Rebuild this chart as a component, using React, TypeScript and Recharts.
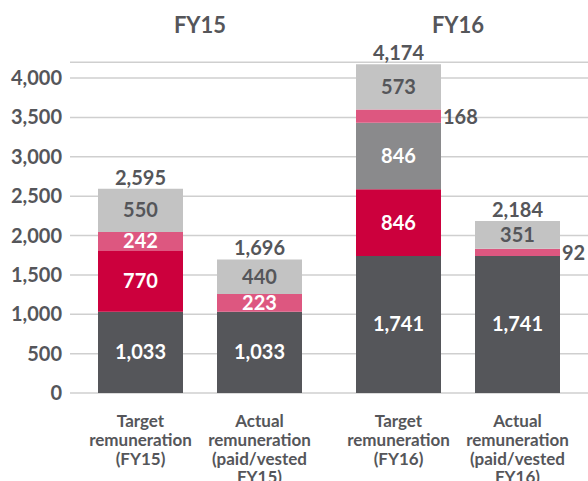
import { BarChart, Bar, XAxis, YAxis, CartesianGrid, LabelList } from 'recharts';

const categories = [
  'Target remuneration (FY15)',
  'Actual remuneration (paid/vested FY15)',
  'Target remuneration (FY16)',
  'Actual remuneration (paid/vested FY16)',
];
const tickLines: Record<string, string[]> = {
  'Target remuneration (FY15)': ['Target', 'remuneration', '(FY15)'],
  'Actual remuneration (paid/vested FY15)': ['Actual', 'remuneration', '(paid/vested', 'FY15)'],
  'Target remuneration (FY16)': ['Target', 'remuneration', '(FY16)'],
  'Actual remuneration (paid/vested FY16)': ['Actual', 'remuneration', '(paid/vested', 'FY16)'],
};
const fixedPay = [1033, 1033, 1741, 1741];
const shortTerm = [770, 0, 846, 0];
const longTerm = [0, 0, 846, 0];
const pinkPart = [242, 223, 168, 92];
const otherPart = [550, 440, 573, 351];
const totals = [2595, 1696, 4174, 2184];
const yTicks = [0, 500, 1000, 1500, 2000, 2500, 3000, 3500, 4000];

const rows = categories.map((name, i) => ({
  name,
  fixed: fixedPay[i],
  sti: shortTerm[i],
  lti: longTerm[i],
  pink: pinkPart[i],
  other: otherPart[i],
  total: totals[i],
}));

const FONT = 'Lato, "Open Sans", sans-serif';
const DARK = '#55565a';
const fmt = (v: number) => v.toLocaleString('en-US');

// 0 sits at y=393 and 4,000 at y=78; a little headroom above 4,000 for the FY16 bar
const Y_MAX = 4200;
const TOP = 393 - (Y_MAX * 315) / 4000;

const inside = (color: string) => (props: any) => {
  const { x, y, width, height, value } = props;
  if (!value) return null;
  return (
    <text x={x + width / 2} y={y + height / 2} dy={7} textAnchor="middle"
      fill={color} fontSize={20} fontWeight={700} fontFamily={FONT}>
      {fmt(value)}
    </text>
  );
};

const pinkLabel = (props: any) => {
  const { x, y, width, height, value } = props;
  if (!value) return null;
  if (height < 15) {
    return (
      <text x={x + width + 2} y={y + height / 2} dy={8} textAnchor="start"
        fill={DARK} fontSize={20} fontWeight={700} fontFamily={FONT}>
        {fmt(value)}
      </text>
    );
  }
  return (
    <text x={x + width / 2} y={y + height / 2} dy={7} textAnchor="middle"
      fill="#ffffff" fontSize={20} fontWeight={700} fontFamily={FONT}>
      {fmt(value)}
    </text>
  );
};

const totalLabel = (props: any) => {
  const { x, y, width, value } = props;
  return (
    <text x={x + width / 2} y={y - 4} textAnchor="middle"
      fill={DARK} fontSize={20} fontWeight={700} fontFamily={FONT}>
      {fmt(value)}
    </text>
  );
};

const CatTick = (props: any) => {
  const { x, y, payload } = props;
  const lines = tickLines[payload.value] || [payload.value];
  return (
    <text x={x} y={y} textAnchor="middle" fill={DARK} fontSize={17} fontWeight={700} fontFamily={FONT}>
      {lines.map((l, i) => (
        <tspan key={i} x={x} y={y + 26 + i * 18.8}>{l}</tspan>
      ))}
    </text>
  );
};

const renderBars = () => [
  <Bar key="fixed" dataKey="fixed" stackId="a" fill="#55565a" barSize={85} isAnimationActive={false}>
    <LabelList dataKey="fixed" content={inside('#ffffff')} />
  </Bar>,
  <Bar key="sti" dataKey="sti" stackId="a" fill="#cc003d" barSize={85} isAnimationActive={false}>
    <LabelList dataKey="sti" content={inside('#ffffff')} />
  </Bar>,
  <Bar key="lti" dataKey="lti" stackId="a" fill="#8a8a8c" barSize={85} isAnimationActive={false}>
    <LabelList dataKey="lti" content={inside('#ffffff')} />
  </Bar>,
  <Bar key="pink" dataKey="pink" stackId="a" fill="#dd5780" barSize={85} isAnimationActive={false}>
    <LabelList dataKey="pink" content={pinkLabel} />
  </Bar>,
  <Bar key="other" dataKey="other" stackId="a" fill="#c3c3c3" barSize={85} isAnimationActive={false}>
    <LabelList dataKey="other" content={inside(DARK)} />
    <LabelList dataKey="total" content={totalLabel} />
  </Bar>,
];

const headerStyle = (cx: number): React.CSSProperties => ({
  position: 'absolute',
  left: cx - 50,
  top: 10,
  width: 100,
  textAlign: 'center',
  fontFamily: FONT,
  fontWeight: 700,
  fontSize: 22,
  color: DARK,
  lineHeight: '30px',
});

export default function App() {
  return (
    <div style={{ position: 'absolute', left: 0, top: 0, width: 588, height: 481, background: '#fff', overflow: 'hidden' }}>
      <div style={headerStyle(200)}>FY15</div>
      <div style={headerStyle(458)}>FY16</div>
      <div style={{ position: 'absolute', left: 0, top: 0 }}>
        <BarChart width={319} height={481} data={rows.slice(0, 2)}
          margin={{ top: TOP, right: 0, left: 0, bottom: 0 }} barCategoryGap={0}>
          <CartesianGrid vertical={false} stroke="#cfcfcf" strokeWidth={1.5} />
          <XAxis dataKey="name" axisLine={false} tickLine={false} height={88}
            padding={{ left: 11, right: 0 }} tick={<CatTick />} interval={0} />
          <YAxis domain={[0, Y_MAX]} allowDataOverflow ticks={yTicks} width={70} axisLine={false} tickLine={false}
            tickFormatter={fmt} tick={{ fill: DARK, fontSize: 20, fontWeight: 700, fontFamily: FONT }} />
          {renderBars()}
        </BarChart>
      </div>
      <div style={{ position: 'absolute', left: 319, top: 0 }}>
        <BarChart width={269} height={481} data={rows.slice(2, 4)}
          margin={{ top: TOP, right: 0, left: 0, bottom: 0 }} barCategoryGap={0}>
          <CartesianGrid vertical={false} stroke="#cfcfcf" strokeWidth={1.5} />
          <XAxis dataKey="name" axisLine={false} tickLine={false} height={88}
            padding={{ left: 20, right: 11 }} tick={<CatTick />} interval={0} />
          <YAxis hide domain={[0, Y_MAX]} allowDataOverflow ticks={yTicks} width={0} />
          {renderBars()}
        </BarChart>
      </div>
    </div>
  );
}
